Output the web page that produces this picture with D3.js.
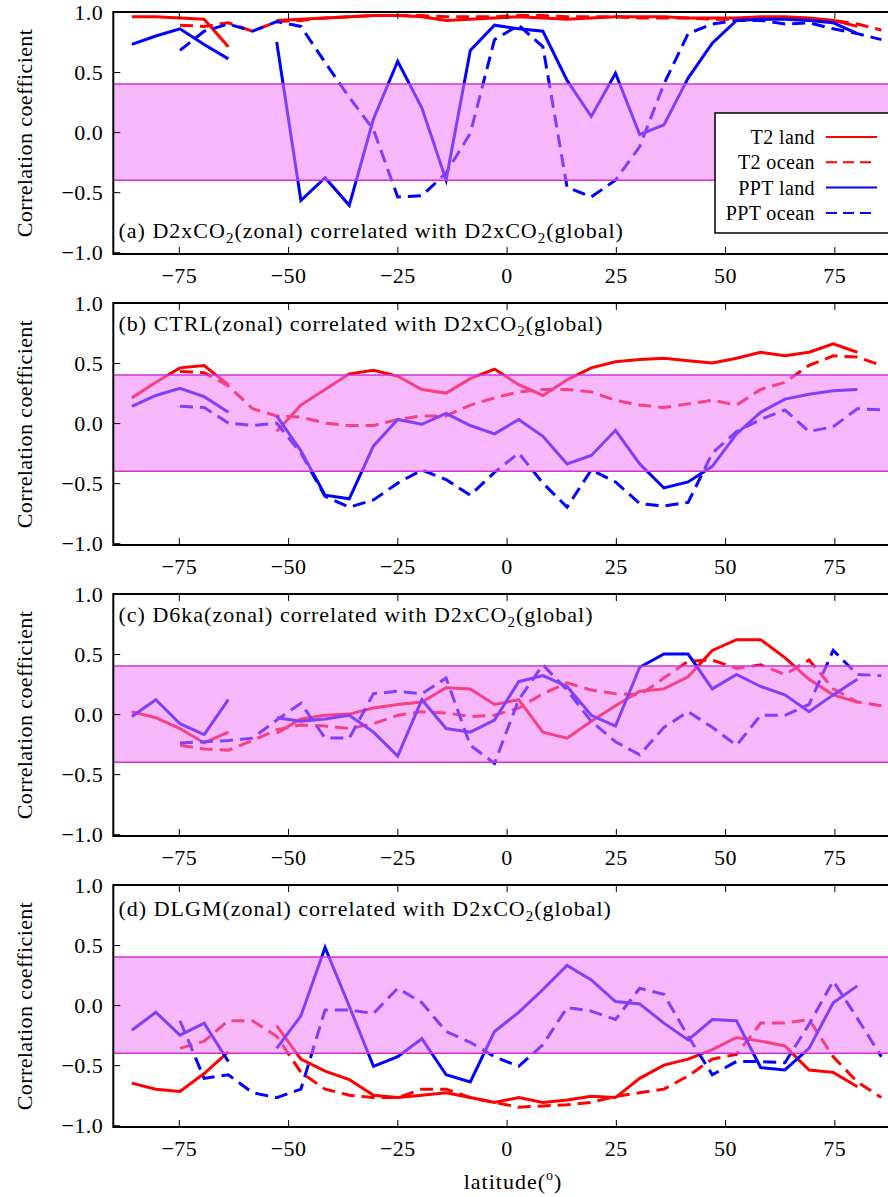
<!DOCTYPE html>
<html>
<head>
<meta charset="utf-8">
<script src="https://cdn.jsdelivr.net/npm/d3@7"></script>
<style>
  body { margin: 0; background: #fff; }
  svg { display: block; font-family: "Liberation Serif", "DejaVu Serif", serif; }
</style>
</head>
<body>
<div id="chart"></div>
<script>
// T21 gaussian latitudes
var lats = [-85.76, -80.27, -74.74, -69.21, -63.68, -58.14, -52.61, -47.07, -41.54, -36.00, -30.46, -24.92, -19.38, -13.84, -8.31, -2.77,
  2.77, 8.31, 13.84, 19.38, 24.92, 30.46, 36.00, 41.54, 47.07, 52.61, 58.14, 63.68, 69.21, 74.74, 80.27, 85.76]

var xTicks = [-75, -50, -25, 0, 25, 50, 75]
var yTicks = [-1.0, -0.5, 0.0, 0.5, 1.0]
var seriesNames = ['T2 land', 'T2 ocean', 'PPT land', 'PPT ocean']

// (a) D2xCO2
var aT2Land = [0.96, 0.96, 0.95, 0.94, 0.71, null, 0.93, 0.94, 0.95, 0.96, 0.97, 0.97, 0.96, 0.93, 0.94, 0.95, 0.96, 0.95, 0.94, 0.95, 0.96, 0.96, 0.96, 0.95, 0.95, 0.95, 0.96, 0.96, 0.95, 0.93, 0.88, null]
var aT2Ocean = [null, null, 0.89, 0.88, 0.91, 0.84, 0.92, 0.93, 0.95, 0.96, 0.97, 0.97, 0.97, 0.96, 0.96, 0.96, 0.97, 0.97, 0.96, 0.96, 0.96, 0.95, 0.95, 0.95, 0.94, 0.94, 0.94, 0.95, 0.94, 0.93, 0.90, 0.85]
var aPptLand = [0.73, 0.80, 0.86, 0.73, 0.61, null, 0.75, -0.57, -0.38, -0.61, 0.11, 0.59, 0.20, -0.40, 0.68, 0.89, 0.86, 0.84, 0.43, 0.13, 0.49, -0.02, 0.06, 0.45, 0.74, 0.93, 0.94, 0.94, 0.93, 0.91, 0.82, null]
var aPptOcean = [null, null, 0.68, 0.84, 0.90, 0.84, 0.92, 0.88, 0.58, 0.29, 0.02, -0.54, -0.53, -0.34, -0.01, 0.77, 0.89, 0.71, -0.46, -0.54, -0.40, -0.12, 0.40, 0.82, 0.90, 0.93, 0.93, 0.90, 0.91, 0.86, 0.82, 0.77]

// (b) CTRL
var bT2Land = [0.21, 0.34, 0.46, 0.48, 0.32, null, -0.07, 0.15, 0.28, 0.41, 0.44, 0.39, 0.28, 0.25, 0.37, 0.45, 0.32, 0.23, 0.36, 0.46, 0.51, 0.53, 0.54, 0.52, 0.50, 0.54, 0.59, 0.56, 0.59, 0.66, 0.59, null]
var bT2Ocean = [null, null, 0.43, 0.42, 0.31, 0.12, 0.06, 0.05, 0.00, -0.02, -0.02, 0.03, 0.06, 0.06, 0.15, 0.21, 0.26, 0.28, 0.28, 0.26, 0.19, 0.15, 0.13, 0.16, 0.19, 0.15, 0.28, 0.34, 0.48, 0.56, 0.55, 0.48]
var bPptLand = [0.14, 0.23, 0.29, 0.22, 0.09, null, 0.06, -0.23, -0.60, -0.63, -0.19, 0.03, -0.01, 0.08, -0.02, -0.09, 0.03, -0.11, -0.34, -0.27, -0.06, -0.34, -0.54, -0.49, -0.36, -0.09, 0.09, 0.20, 0.24, 0.27, 0.28, null]
var bPptOcean = [null, null, 0.14, 0.13, 0.00, -0.02, 0.00, -0.25, -0.61, -0.70, -0.64, -0.50, -0.39, -0.47, -0.60, -0.41, -0.25, -0.50, -0.70, -0.39, -0.49, -0.67, -0.69, -0.66, -0.25, -0.07, 0.03, 0.11, -0.07, -0.03, 0.12, 0.11]

// (c) D6ka
var cT2Land = [0.02, -0.03, -0.12, -0.24, -0.15, null, -0.16, -0.04, -0.01, 0.00, 0.05, 0.08, 0.10, 0.22, 0.21, 0.08, 0.12, -0.15, -0.20, -0.06, 0.07, 0.19, 0.21, 0.31, 0.53, 0.62, 0.62, 0.47, 0.29, 0.16, 0.10, null]
var cT2Ocean = [null, null, -0.26, -0.29, -0.30, -0.22, -0.13, -0.09, -0.10, -0.12, -0.08, -0.01, 0.02, 0.01, -0.02, -0.01, 0.05, 0.17, 0.26, 0.20, 0.17, 0.16, 0.30, 0.44, 0.45, 0.38, 0.41, 0.33, 0.45, 0.21, 0.10, 0.07]
var cPptLand = [-0.02, 0.12, -0.08, -0.17, 0.12, null, -0.03, -0.06, -0.04, -0.01, -0.15, -0.35, 0.12, -0.12, -0.15, -0.05, 0.27, 0.32, 0.23, -0.01, -0.10, 0.39, 0.50, 0.50, 0.21, 0.33, 0.23, 0.16, 0.02, 0.16, 0.29, null]
var cPptOcean = [null, null, -0.24, -0.23, -0.22, -0.20, -0.05, 0.09, -0.20, -0.20, 0.17, 0.19, 0.17, 0.30, -0.26, -0.41, 0.12, 0.41, 0.20, -0.06, -0.23, -0.34, -0.11, 0.02, -0.11, -0.26, -0.01, -0.01, 0.08, 0.53, 0.33, 0.32]

// (d) DLGM
var dT2Land = [-0.65, -0.70, -0.72, -0.57, -0.39, null, -0.17, -0.45, -0.55, -0.62, -0.75, -0.77, -0.75, -0.73, -0.77, -0.81, -0.77, -0.81, -0.79, -0.76, -0.77, -0.61, -0.50, -0.45, -0.37, -0.27, -0.30, -0.34, -0.54, -0.56, -0.68, null]
var dT2Ocean = [null, null, -0.36, -0.30, -0.13, -0.13, -0.26, -0.56, -0.70, -0.75, -0.77, -0.77, -0.70, -0.70, -0.77, -0.81, -0.85, -0.84, -0.83, -0.81, -0.76, -0.73, -0.70, -0.59, -0.45, -0.41, -0.15, -0.15, -0.12, -0.43, -0.64, -0.77]
var dPptLand = [-0.21, -0.06, -0.25, -0.15, -0.47, null, -0.36, -0.09, 0.48, -0.01, -0.51, -0.43, -0.28, -0.58, -0.64, -0.22, -0.06, 0.13, 0.33, 0.21, 0.03, 0.01, -0.15, -0.29, -0.12, -0.13, -0.52, -0.54, -0.36, 0.02, 0.16, null]
var dPptOcean = [null, null, -0.13, -0.61, -0.58, -0.73, -0.77, -0.70, -0.04, -0.04, -0.07, 0.14, 0.02, -0.22, -0.31, -0.43, -0.51, -0.33, -0.02, -0.05, -0.12, 0.14, 0.09, -0.26, -0.58, -0.47, -0.47, -0.48, -0.16, 0.20, -0.11, -0.43]

var panels = [
  { tag: '(a) D2xCO', mid: '(zonal) correlated with D2xCO', labelY: -0.88, series: [aT2Land, aT2Ocean, aPptLand, aPptOcean] },
  { tag: '(b) CTRL', mid: null, labelY: 0.77, series: [bT2Land, bT2Ocean, bPptLand, bPptOcean] },
  { tag: '(c) D6ka', mid: null, labelY: 0.77, series: [cT2Land, cT2Ocean, cPptLand, cPptOcean] },
  { tag: '(d) DLGM', mid: null, labelY: 0.74, series: [dT2Land, dT2Ocean, dPptLand, dPptOcean] }
]

var colors = ['#ff0000', '#ff0000', '#0000ff', '#0000ff']
var dashes = [null, '13,7', null, '13,7']

var W = 888, H = 1197
var left = 113.3, plotW = 786.6
var top0 = 12, step = 291, plotH = 242

var svg = d3.select('#chart').append('svg')
  .attr('width', W).attr('height', H)

var x = d3.scaleLinear().domain([-90, 90]).range([left, left + plotW])

panels.forEach(function (p, i) {
  var top = top0 + i * step
  var y = d3.scaleLinear().domain([-1.015, 1]).range([top + plotH, top])
  var g = svg.append('g')

  var clipId = 'clip' + i
  svg.append('clipPath').attr('id', clipId)
    .append('rect').attr('x', left).attr('y', top).attr('width', plotW).attr('height', plotH)

  var plot = g.append('g').attr('clip-path', 'url(#' + clipId + ')')

  var line = d3.line()
    .defined(function (d) { return d[1] != null })
    .x(function (d) { return x(d[0]) })
    .y(function (d) { return y(d[1]) })

  p.series.forEach(function (vals, k) {
    plot.append('path')
      .datum(lats.map(function (la, j) { return [la, vals[j]] }))
      .attr('d', line)
      .attr('fill', 'none')
      .attr('stroke', colors[k])
      .attr('stroke-width', 3)
      .attr('stroke-dasharray', dashes[k])
  })

  // shaded band on top of the lines
  plot.append('rect')
    .attr('x', left).attr('width', plotW)
    .attr('y', y(0.4)).attr('height', y(-0.4) - y(0.4))
    .attr('fill', 'rgb(240,120,248)').attr('fill-opacity', 0.53)
  ;[0.4, -0.4].forEach(function (v) {
    plot.append('line')
      .attr('x1', left).attr('x2', left + plotW)
      .attr('y1', y(v)).attr('y2', y(v))
      .attr('stroke', 'rgb(205,50,215)').attr('stroke-width', 1.5)
  })

  // axes
  var yAxis = d3.axisLeft(y).tickValues(yTicks).tickSizeInner(-7).tickSizeOuter(0).tickPadding(10)
    .tickFormat(function (d) { return d3.format('.1f')(d).replace('-', '\u2212') })
  var xAxis = d3.axisBottom(x).tickValues(xTicks).tickSizeInner(-7).tickSizeOuter(0).tickPadding(13)
    .tickFormat(function (d) { return String(d).replace('-', '\u2212') })
  var xTop = d3.axisTop(x).tickValues(xTicks).tickSizeInner(-7).tickSizeOuter(0).tickFormat('')

  var ya = g.append('g').attr('transform', 'translate(' + left + ',0)').call(yAxis)
  var xa = g.append('g').attr('transform', 'translate(0,' + (top + plotH) + ')').call(xAxis)
  var xt = g.append('g').attr('transform', 'translate(0,' + top + ')').call(xTop)
  ;[ya, xa, xt].forEach(function (a) {
    a.select('.domain').remove()
    a.selectAll('.tick line').attr('stroke', '#000').attr('stroke-width', 1)
    a.selectAll('text').attr('font-family', '"Liberation Serif", serif').attr('font-size', 22)
      .attr('letter-spacing', 0.5).attr('fill', '#000')
  })

  g.append('rect')
    .attr('x', left).attr('y', top).attr('width', plotW).attr('height', plotH)
    .attr('fill', 'none').attr('stroke', '#000').attr('stroke-width', 2)

  // y label
  g.append('text')
    .attr('transform', 'translate(32,' + (top + plotH / 2) + ') rotate(-90)')
    .attr('text-anchor', 'middle')
    .attr('font-size', 22).attr('letter-spacing', 0.4)
    .text('Correlation coefficient')

  // panel title
  var t = g.append('text')
    .attr('x', x(-88.8)).attr('y', y(p.labelY))
    .attr('font-size', 22).attr('letter-spacing', 1)
  var head = p.mid ? p.tag : p.tag + '(zonal) correlated with D2xCO'
  if (p.mid) {
    t.append('tspan').text(head)
    t.append('tspan').attr('font-size', 15).attr('dy', 5).text('2')
    t.append('tspan').attr('dy', -5).text(p.mid)
  } else {
    t.append('tspan').text(head)
  }
  t.append('tspan').attr('font-size', 15).attr('dy', 5).text('2')
  t.append('tspan').attr('dy', -5).text('(global)')
})

// legend in panel (a)
var leg = svg.append('g')
leg.append('rect')
  .attr('x', 715).attr('y', 113).attr('width', 200).attr('height', 120)
  .attr('fill', '#fff').attr('stroke', '#000').attr('stroke-width', 1.5)
seriesNames.forEach(function (name, k) {
  var ly = 137 + k * 25.3
  leg.append('text')
    .attr('x', 815).attr('y', ly + 7)
    .attr('text-anchor', 'end').attr('font-size', 20).attr('letter-spacing', 0.4)
    .text(name)
  leg.append('line')
    .attr('x1', 826).attr('x2', 877)
    .attr('y1', ly).attr('y2', ly)
    .attr('stroke', colors[k]).attr('stroke-width', 2)
    .attr('stroke-dasharray', dashes[k] ? '11,6' : null)
})

// x label
var xl = svg.append('text')
  .attr('x', 513).attr('y', 1189)
  .attr('text-anchor', 'middle').attr('font-size', 22).attr('letter-spacing', 1)
xl.append('tspan').text('latitude(')
xl.append('tspan').attr('font-size', 14).attr('dy', -9).text('o')
xl.append('tspan').attr('dy', 9).text(')')
</script>
</body>
</html>
